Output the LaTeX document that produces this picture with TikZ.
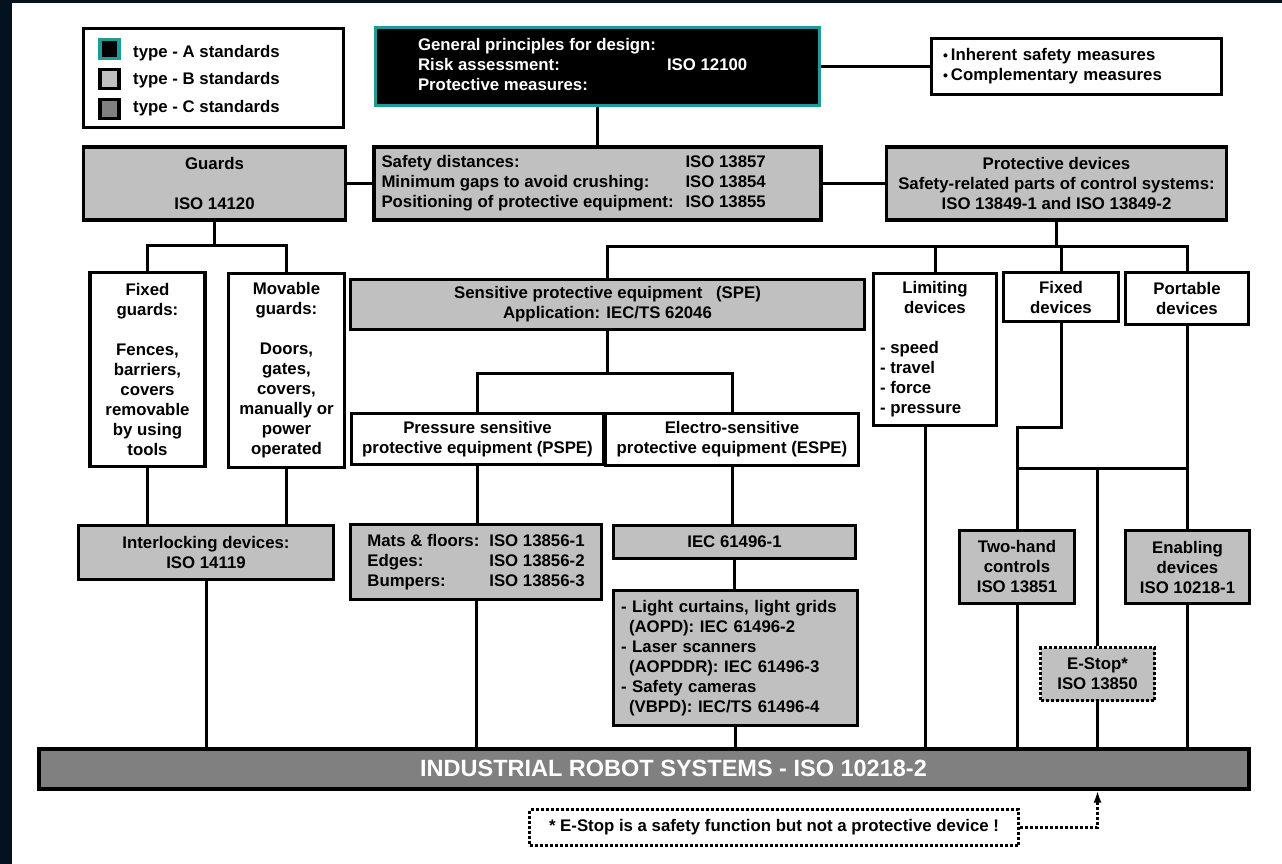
\documentclass[tikz,border=0pt]{standalone}
\usepackage{fontspec}
\setmainfont{Liberation Sans}
\usetikzlibrary{arrows.meta}
\definecolor{StdTeal}{HTML}{1E9C9A}
\definecolor{StdLight}{HTML}{C0C0C0}
\definecolor{StdDark}{HTML}{808080}
\definecolor{PageInk}{HTML}{04111F}
\newcommand{\chartfont}{\bfseries\fontsize{16.8}{20}\selectfont}
\newcommand{\barfont}{\bfseries\fontsize{23.5}{28}\selectfont}
\newcommand{\dotitem}{\raisebox{.05em}{\fontsize{14}{14}\selectfont\textbullet}\hspace{3pt}}
\newcommand{\limititem}[1]{\makebox[110pt][l]{#1}}
\tikzset{
    % Boxes
    std box/.style={
        rectangle,
        draw=black,
        line width=3.2pt,
        inner sep=0pt,
        align=center,
        text=black,
        font=\chartfont
    },
    std a/.style={
        std box,
        draw=StdTeal,
        line width=3.6pt,
        fill=black,
        text=white
    },
    std b/.style={
        std box,
        fill=StdLight
    },
    std c/.style={
        std box,
        fill=StdDark,
        text=white
    },
    plain box/.style={
        std box,
        fill=white
    },
    estop box/.style={
        std b,
        dash pattern=on 3pt off 2pt
    },
    note box/.style={
        plain box,
        dash pattern=on 3pt off 2pt
    },
    legend mark/.style={
        rectangle,
        draw=black,
        line width=3.5pt,
        minimum size=19pt,
        inner sep=0pt
    },
    legend text/.style={
        anchor=west,
        inner sep=0pt,
        font=\chartfont
    },
    link/.style={
        line width=3pt,
        color=black
    },
    note link/.style={
        link,
        dash pattern=on 3pt off 2pt,
        -{Latex[length=12pt,width=8pt]}
    }
}
\begin{document}
\begin{tikzpicture}[x=1pt, y=-1pt]
    \useasboundingbox (0,0) rectangle (1282,864);
    \fill[PageInk] (0,0) rectangle (1282,864);
    \fill[white] (12,3) rectangle (1282,864);

    % Legend
    \node[plain box, minimum width=260, minimum height=99] (legend) at (213.5,78) {};
    \node[legend mark, draw=StdTeal, fill=black] (markA) at (109.5,49) {};
    \node[legend mark, fill=StdLight] (markB) at (109.5,79) {};
    \node[legend mark, fill=StdDark] (markC) at (109.5,109) {};
    \node[legend text] (textA) at (133,53.5) {type - A standards};
    \node[legend text] (textB) at (133,80.5) {type - B standards};
    \node[legend text] (textC) at (133,108) {type - C standards};

    % Top level
    \node[std a, minimum width=444, minimum height=78] (gen) at (597.5,66.5) {\begin{tabular}{@{}p{249pt}@{}p{110pt}@{}}General principles for design: & \\ Risk assessment: & ISO 12100\\ Protective measures: & \end{tabular}};
    \node[plain box, minimum width=290, minimum height=56, text width=267, align=left] (inherent) at (1076.5,66.5) {\dotitem Inherent safety measures\\\dotitem Complementary measures};

    % Second row
    \node[std b, minimum width=262, minimum height=73] (guards) at (214.5,183.5) {Guards\\[20pt]ISO 14120};
    \node[std b, minimum width=447, minimum height=73] (safety) at (597.5,183.5) {\begin{tabular}{@{}p{304pt}@{}p{128pt}@{}}Safety distances: & ISO 13857\\ Minimum gaps to avoid crushing: & ISO 13854\\ Positioning of protective equipment: & ISO 13855\end{tabular}};
    \node[std b, minimum width=340, minimum height=73] (protdev) at (1056.5,183.5) {Protective devices\\Safety-related parts of control systems:\\ISO 13849-1 and ISO 13849-2};

    % Guards and devices
    \node[plain box, minimum width=115, minimum height=194] (fixguard) at (147.5,369.5) {Fixed\\guards:\\[20pt]Fences,\\barriers,\\covers\\removable\\by using\\tools};
    \node[plain box, minimum width=116, minimum height=194] (movguard) at (286.5,370.5) {Movable\\guards:\\[20pt]Doors,\\gates,\\covers,\\manually or\\power\\operated};
    \node[std b, minimum width=514, minimum height=50] (spe) at (607.5,304.5) {Sensitive protective equipment\hspace{9pt} (SPE)\\Application: IEC/TS 62046};
    \node[plain box, minimum width=123, minimum height=152] (limit) at (935,349.5) {Limiting\\devices\\[20pt]\limititem{- speed}\\\limititem{- travel}\\\limititem{- force}\\\limititem{- pressure}};
    \node[plain box, minimum width=115, minimum height=49] (fixdev) at (1061,297) {Fixed\\devices};
    \node[plain box, minimum width=123, minimum height=52] (portdev) at (1187,298.5) {Portable\\devices};

    % Sensitive equipment
    \node[plain box, minimum width=252, minimum height=51] (pspe) at (477.5,439) {Pressure sensitive\\protective equipment (PSPE)};
    \node[plain box, minimum width=253, minimum height=52] (espe) at (732,439.5) {Electro-sensitive\\protective equipment (ESPE)};

    % Type C row
    \node[std b, minimum width=255, minimum height=54] (interlock) at (206,552.5) {Interlocking devices:\\ISO 14119};
    \node[std b, minimum width=251, minimum height=75] (mats) at (476,562) {\begin{tabular}{@{}p{122pt}@{}l@{}}Mats \& floors: & ISO 13856-1\\Edges: & ISO 13856-2\\Bumpers: & ISO 13856-3\end{tabular}};
    \node[std b, minimum width=242, minimum height=33] (iec) at (734.5,542) {IEC 61496-1};
    \node[std b, minimum width=244, minimum height=135, text width=229, align=left] (curtain) at (735.5,658) {- Light curtains, light grids\\\hspace*{8pt}(AOPD): IEC 61496-2\\- Laser scanners\\\hspace*{8pt}(AOPDDR): IEC 61496-3\\- Safety cameras\\\hspace*{8pt}(VBPD): IEC/TS 61496-4};
    \node[std b, minimum width=115, minimum height=73] (twohand) at (1017,567) {Two-hand\\controls\\ISO 13851};
    \node[estop box, minimum width=114, minimum height=53] (estop) at (1097.5,674) {E-Stop*\\ISO 13850};
    \node[std b, minimum width=124, minimum height=73] (enabling) at (1187.5,567) {Enabling\\devices\\ISO 10218-1};

    % Robot system bar and note
    \node[std c, line width=4pt, minimum width=1210, minimum height=40, font=\barfont] (robot) at (643.5,768.5) {\hspace*{60pt}INDUSTRIAL ROBOT SYSTEMS - ISO 10218-2};
    \node[note box, minimum width=489, minimum height=36] (note) at (774,827.5) {* E-Stop is a safety function but not a protective device !};

    % Links
    \draw[link] (gen) -- (inherent);
    \draw[link] (gen) -- (safety);
    \draw[link] (guards) -- (safety);
    \draw[link] (safety) -- (protdev);

    \coordinate (guardsplit) at (214.5,245);
    \draw[link] (guards) -- (guardsplit);
    \draw[link] (fixguard) |- (guardsplit) -| (movguard);

    \coordinate (devsplit) at (1056.5,246);
    \draw[link] (protdev) -- (devsplit);
    \draw[link] (spe) |- (devsplit) -| (portdev);
    \draw[link] (limit) -- (limit |- devsplit);
    \draw[link] (fixdev) -- (fixdev |- devsplit);

    \coordinate (spesplit) at (607.5,373);
    \draw[link] (spe) -- (spesplit);
    \draw[link] (pspe) |- (spesplit) -| (espe);

    \draw[link] (fixguard) -- (fixguard |- interlock.north);
    \draw[link] (movguard) -- (movguard |- interlock.north);
    \draw[link] (pspe) -- (pspe |- mats.north);
    \draw[link] (espe) -- (espe |- iec.north);
    \draw[link] (iec) -- (iec |- curtain.north);

    \draw[link] (fixdev) -- (fixdev |- limit.south) -| (twohand);
    \coordinate (handsplit) at (1017,468);
    \draw[link] (handsplit) -- (handsplit -| portdev);
    \draw[link] (portdev) -- (portdev |- enabling.north);
    \draw[link] (handsplit -| estop) -- (estop);

    % Into the robot system
    \draw[link] (interlock) -- (interlock |- robot.north);
    \draw[link] (mats) -- (mats |- robot.north);
    \draw[link] (curtain) -- (curtain |- robot.north);
    \draw[link] ([xshift=-10pt]limit.south) -- ([xshift=-10pt]limit.south |- robot.north);
    \draw[link] (twohand) -- (twohand |- robot.north);
    \draw[link] (estop) -- (estop |- robot.north);
    \draw[link] (enabling) -- (enabling |- robot.north);

    \draw[note link] (note) -| (estop |- robot.south);
\end{tikzpicture}
\end{document}
